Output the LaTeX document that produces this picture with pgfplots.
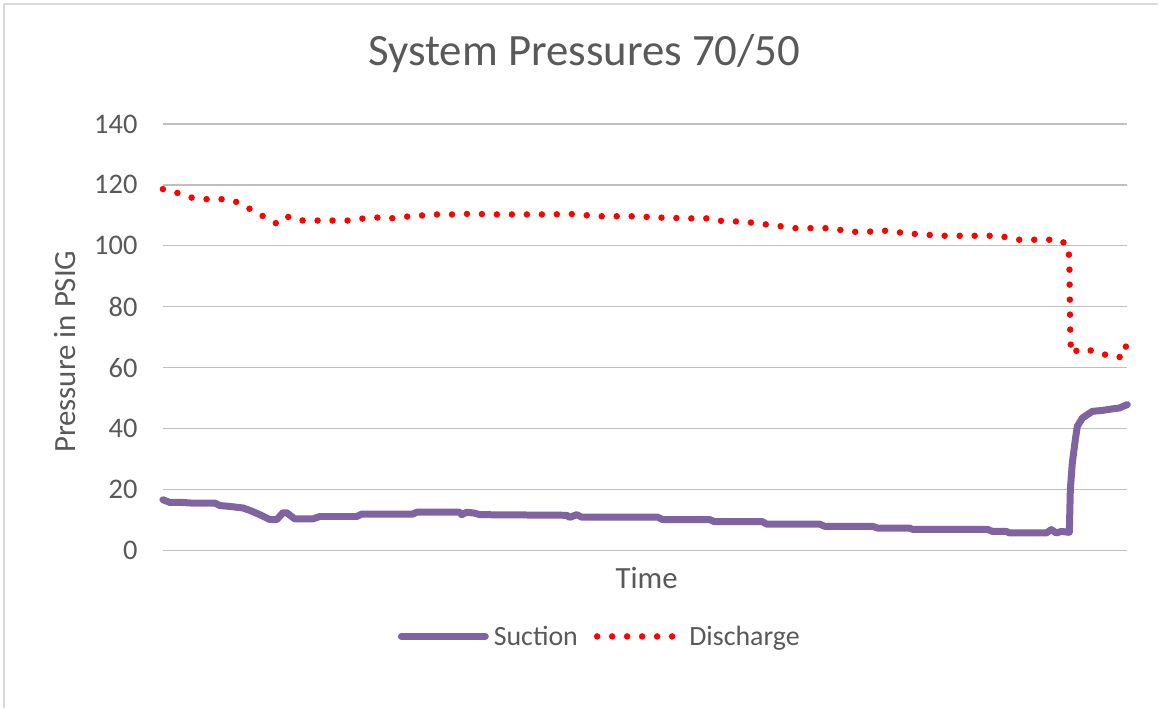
\documentclass[border=0pt]{standalone}
\usepackage{pgfplots}
\pgfplotsset{compat=1.18}
\usepackage{fontspec}
\setmainfont{Carlito}
\definecolor{txt}{HTML}{595959}
\definecolor{grid}{HTML}{D9D9D9}
\definecolor{suct}{HTML}{8064A2}
\definecolor{disc}{HTML}{FF0000}
\begin{document}
\begin{tikzpicture}[x=1bp,y=1bp]
\path[fill=white] (0,0) rectangle (1159,708);
\draw[grid,line width=1.5bp] (4,0) -- (4,704) -- (1159,704);
\begin{axis}[
  at={(163bp,157bp)}, anchor=south west,
  scale only axis, width=965bp, height=427bp,
  xmin=163, xmax=1128, ymin=0, ymax=140,
  ytick={0,20,...,140}, xtick=\empty,
  axis line style={draw=none},
  major tick length=0pt,
  ymajorgrids, grid style={grid, line width=1.3bp},
  clip=false,
  /pgf/number format/assume math mode=true,
  tick label style={font=\fontsize{28.5}{32}\selectfont, text=txt},
  yticklabel style={xshift=-22bp},
  title={System Pressures 70/50},
  title style={font=\fontsize{45}{52}\selectfont, text=txt, at={(axis description cs:0.437,1.15)}, anchor=center},
  xlabel={Time},
  xlabel style={font=\fontsize{31}{36}\selectfont, text=txt, at={(axis description cs:0.5016,-0.063)}, anchor=center},
  ylabel={Pressure in PSIG},
  ylabel style={font=\fontsize{31}{36}\selectfont, text=txt, at={(axis description cs:-0.1016,0.466)}, anchor=center, rotate=0},
  legend style={at={(axis description cs:0.453,-0.201)}, anchor=center, draw=none, fill=none,
    font=\fontsize{28}{32}\selectfont, text=txt, legend columns=2,
    /tikz/every even column/.append style={column sep=14bp},
    inner sep=0pt, row sep=0pt},
  legend cell align=left,
  legend image code/.code={\draw[#1] (0bp,0bp) -- (84bp,0bp); \path (87bp,0bp);},
]
\addplot[suct, line width=7bp, line cap=round, line join=round] coordinates {
(163,16.7) (170,15.8) (183,15.8) (192,15.6) (215,15.6) (220,14.8) (230,14.5)
(243,14.0) (250,13.2) (260,11.8) (270,10.2) (277,10.2) (283,12.4) (287,12.4)
(295,10.4) (313,10.4) (320,11.2) (357,11.2) (362,12.0) (413,12.0) (417,12.6)
(460,12.6) (462,11.8) (467,12.6) (475,12.3) (480,11.8) (567,11.6) (570,10.9)
(577,11.8) (582,11.0) (658,11.0) (663,10.2) (710,10.2) (715,9.5) (763,9.5)
(767,8.7) (820,8.7) (825,8.0) (873,8.0) (878,7.4) (910,7.4) (913,7.0)
(988,7.0) (993,6.3) (1007,6.3) (1010,5.8) (1047,5.8) (1052,6.9) (1057,5.8)
(1062,6.3) (1070,6.0) (1071,20.0) (1073,28.8) (1076,36.4) (1078,40.8)
(1083,43.5) (1093,45.7) (1103,46.0) (1113,46.5) (1120,46.8) (1128,47.9)
};
\addlegendentry{Suction}
\addplot[disc, line width=6.5bp, line cap=round, line join=round, dash pattern=on 0bp off 15bp] coordinates {
(163,118.6) (178,117.3) (192,115.8) (207,115.3) (222,115.3) (234,114.8)
(246,112.8) (257,110.9) (267,109.0) (278,107.1) (289,109.6) (303,108.3)
(350,108.3) (364,109.0) (379,109.3) (391,109.0) (405,109.6) (415,109.6)
(429,110.3) (459,110.3) (473,110.6) (487,110.3) (546,110.3) (573,110.4)
(588,110.0) (600,109.7) (643,109.7) (657,109.0) (667,109.5) (680,109.0)
(711,109.0) (724,108.0) (738,108.0) (753,107.6) (767,107.0) (780,106.5)
(795,105.8) (826,105.8) (841,105.2) (854,104.6) (869,104.6) (881,105.1)
(896,104.6) (910,103.9) (923,103.9) (936,103.3) (1000,103.3) (1008,102.7)
(1020,102.0) (1060,102.0) (1069,100.1) (1070,95.0) (1071,69.7) (1072,64.6)
(1080,66.1) (1088,66.1) (1096,65.1) (1106,64.3) (1114,63.4) (1125,63.6)
(1127,67.8)
};
\addlegendentry{Discharge}
\end{axis}
\end{tikzpicture}
\end{document}
